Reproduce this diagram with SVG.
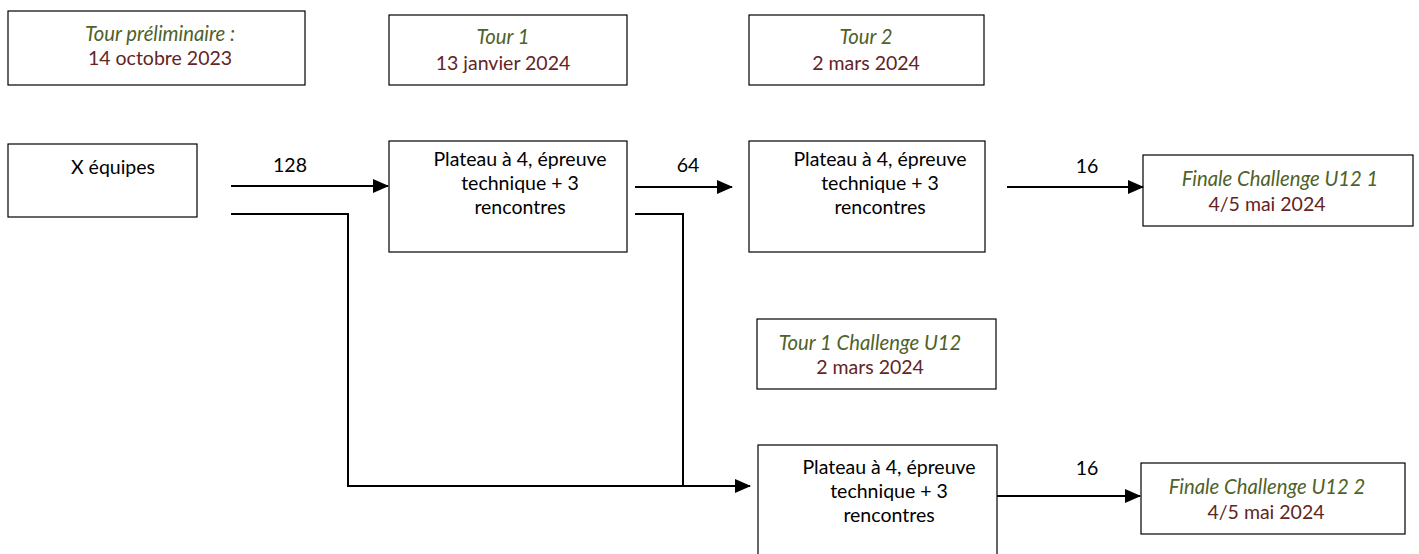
<svg xmlns="http://www.w3.org/2000/svg" width="1419" height="554" viewBox="0 0 1419 554">
<style>
.box{fill:#fff;stroke:#000;stroke-width:1.2}
text{font-family:Lato,"Open Sans",sans-serif;font-size:19.5px;text-anchor:middle;fill:#000}
.g{fill:#4f6228;font-style:italic;font-size:20.3px}
.r{fill:#632423}
.ln{fill:none;stroke:#000;stroke-width:2}
</style>
<defs>
<marker id="ah" markerWidth="16" markerHeight="14" refX="15" refY="7" orient="auto" markerUnits="userSpaceOnUse">
<path d="M0,0 L16,7 L0,14 Z" fill="#000"/>
</marker>
</defs>
<g id="tour-pre"><rect class="box" x="8" y="11" width="297" height="74"/><text class="g" x="160" y="41">Tour préliminaire :</text><text class="r" x="160" y="65">14 octobre 2023</text></g>
<g id="tour1"><rect class="box" x="389" y="15" width="238" height="70"/><text class="g" x="503" y="44">Tour 1</text><text class="r" x="503" y="70">13 janvier 2024</text></g>
<g id="tour2"><rect class="box" x="749" y="15" width="235" height="70"/><text class="g" x="866" y="44">Tour 2</text><text class="r" x="866" y="70">2 mars 2024</text></g>
<g id="equipes"><rect class="box" x="8" y="144" width="189" height="73"/><text x="113" y="174">X équipes</text></g>
<g id="plateau1"><rect class="box" x="389" y="141" width="238" height="111"/><text x="520" y="166">Plateau à 4, épreuve</text><text x="520" y="190">technique + 3</text><text x="520" y="214">rencontres</text></g>
<g id="plateau2"><rect class="box" x="749" y="141" width="236" height="111"/><text x="880" y="166">Plateau à 4, épreuve</text><text x="880" y="190">technique + 3</text><text x="880" y="214">rencontres</text></g>
<g id="finale1"><rect class="box" x="1143" y="155" width="270" height="71"/><text class="g" x="1280" y="186">Finale Challenge U12 1</text><text class="r" x="1267" y="211">4/5 mai 2024</text></g>
<g id="tour1-challenge"><rect class="box" x="757" y="319" width="239" height="70"/><text class="g" x="870" y="350">Tour 1 Challenge U12</text><text class="r" x="870" y="374">2 mars 2024</text></g>
<g id="plateau3"><rect class="box" x="758" y="445" width="239" height="112"/><text x="889" y="474">Plateau à 4, épreuve</text><text x="889" y="498">technique + 3</text><text x="889" y="522">rencontres</text></g>
<g id="finale2"><rect class="box" x="1141" y="463" width="264" height="71"/><text class="g" x="1267" y="494">Finale Challenge U12 2</text><text class="r" x="1266" y="519">4/5 mai 2024</text></g>
<g id="connectors">
<line class="ln" x1="231" y1="186" x2="388" y2="186" marker-end="url(#ah)"/>
<text x="290" y="172">128</text>
<line class="ln" x1="635" y1="187" x2="732" y2="187" marker-end="url(#ah)"/>
<text x="688" y="172">64</text>
<line class="ln" x1="1007" y1="187" x2="1143" y2="187" marker-end="url(#ah)"/>
<text x="1087" y="173">16</text>
<line class="ln" x1="997" y1="496" x2="1140" y2="496" marker-end="url(#ah)"/>
<text x="1087" y="475">16</text>
<polyline class="ln" points="231,214 348,214 348,486 750,486" marker-end="url(#ah)"/>
<polyline class="ln" points="635,214 683,214 683,486"/>
</g>
</svg>
